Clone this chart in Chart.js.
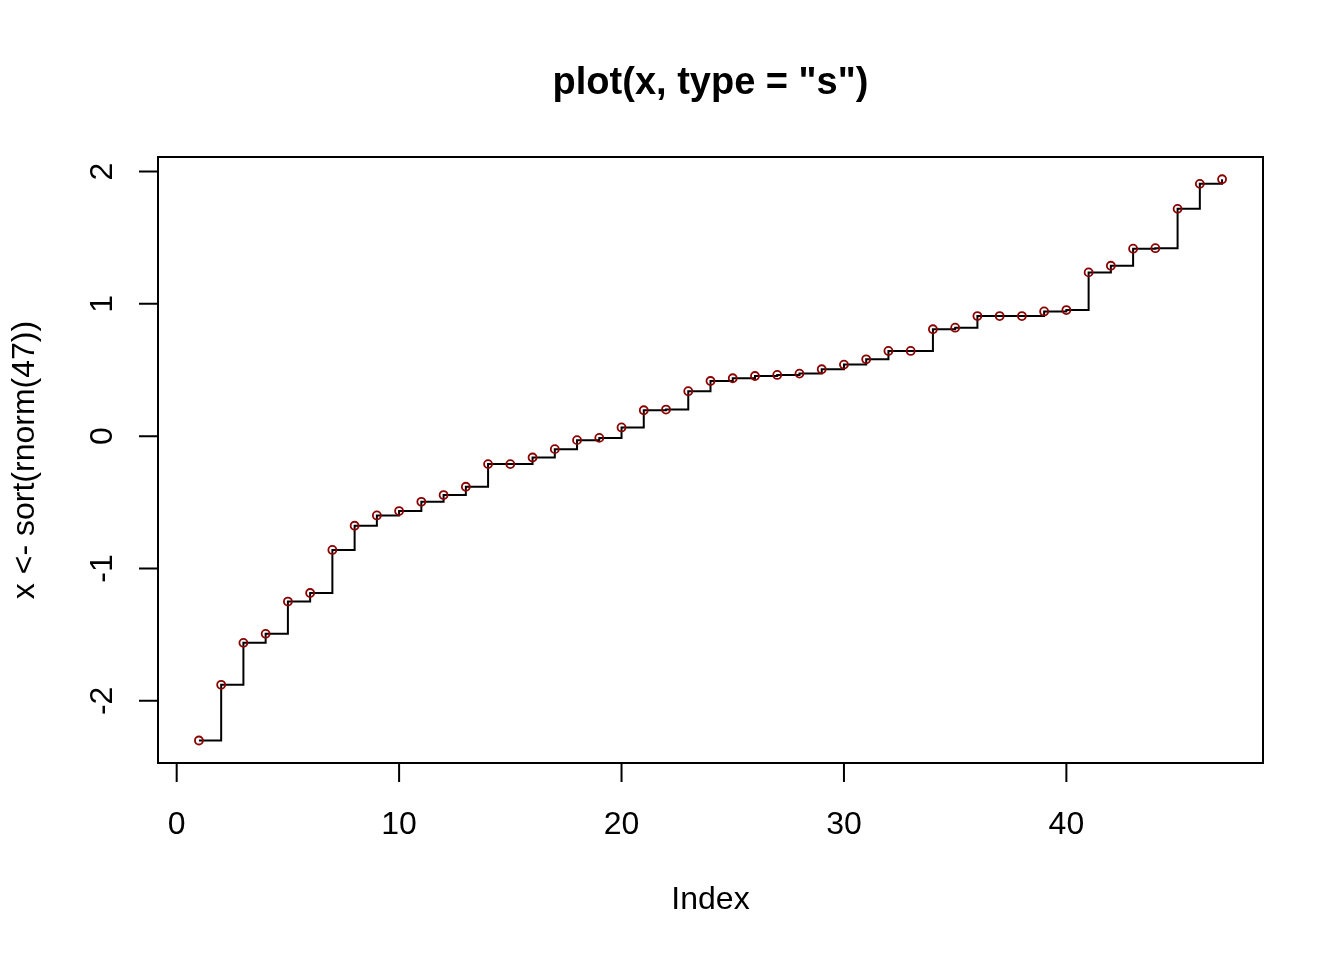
<!DOCTYPE html>
<html><head><meta charset="utf-8">
<script src="https://cdn.jsdelivr.net/npm/chart.js@4.4.0/dist/chart.umd.min.js"></script>
<style>html,body{margin:0;padding:0;background:#fff}#wrap{width:1344px;height:960px}</style>
</head><body><div id="wrap"><canvas id="c" width="1344" height="960"></canvas></div>
<script>
const indexValues = [1,2,3,4,5,6,7,8,9,10,11,12,13,14,15,16,17,18,19,20,21,22,23,24,25,26,27,28,29,30,31,32,33,34,35,36,37,38,39,40,41,42,43,44,45,46,47];
const xValues = [-2.30,-1.879,-1.562,-1.494,-1.250,-1.185,-0.860,-0.677,-0.599,-0.566,-0.496,-0.445,-0.382,-0.211,-0.211,-0.161,-0.098,-0.030,-0.013,0.066,0.196,0.201,0.340,0.417,0.438,0.455,0.463,0.473,0.506,0.541,0.581,0.644,0.644,0.808,0.820,0.908,0.908,0.908,0.943,0.953,1.238,1.288,1.417,1.421,1.718,1.907,1.942];
const xTickValues = [0,10,20,30,40];
const xTickLabels = ['0','10','20','30','40'];
const yTickValues = [-2,-1,0,1,2];
const yTickLabels = ['-2','-1','0','1','2'];
const titleText = 'plot(x, type = "s")';
const xAxisTitle = 'Index';
const yAxisTitle = 'x <- sort(rnorm(47))';

const FONT = '"Liberation Sans", Arial, Helvetica, sans-serif';

const rPlot = {
  id: 'rPlot',
  afterDraw(chart) {
    const ctx = chart.ctx;
    const ca = chart.chartArea;
    const xs = chart.scales.x, ys = chart.scales.y;
    ctx.save();
    ctx.strokeStyle = '#000';
    ctx.lineWidth = 2;
    ctx.strokeRect(ca.left, ca.top, ca.right - ca.left, ca.bottom - ca.top);
    // x axis ticks
    const tl = 19;
    ctx.beginPath();
    const x0 = xs.getPixelForValue(xTickValues[0]);
    const x1 = xs.getPixelForValue(xTickValues[xTickValues.length-1]);
    ctx.moveTo(x0, ca.bottom); ctx.lineTo(x1, ca.bottom);
    xTickValues.forEach(v => { const p = xs.getPixelForValue(v); ctx.moveTo(p, ca.bottom); ctx.lineTo(p, ca.bottom + tl); });
    const y0 = ys.getPixelForValue(yTickValues[0]);
    const y1 = ys.getPixelForValue(yTickValues[yTickValues.length-1]);
    ctx.moveTo(ca.left, y0); ctx.lineTo(ca.left, y1);
    yTickValues.forEach(v => { const p = ys.getPixelForValue(v); ctx.moveTo(ca.left, p); ctx.lineTo(ca.left - tl, p); });
    ctx.stroke();
    ctx.fillStyle = '#000';
    ctx.font = '32px ' + FONT;
    ctx.textAlign = 'center';
    ctx.textBaseline = 'alphabetic';
    xTickValues.forEach((v, i) => ctx.fillText(xTickLabels[i], xs.getPixelForValue(v), 834));
    yTickValues.forEach((v, i) => {
      ctx.save();
      ctx.translate(112, ys.getPixelForValue(v));
      ctx.rotate(-Math.PI/2);
      ctx.fillText(yTickLabels[i], 0, 0);
      ctx.restore();
    });
    ctx.fillText(xAxisTitle, (ca.left + ca.right)/2, 909);
    ctx.save();
    ctx.translate(34, (ca.top + ca.bottom)/2);
    ctx.rotate(-Math.PI/2);
    ctx.fillText(yAxisTitle, 0, 0);
    ctx.restore();
    ctx.font = 'bold 38px ' + FONT;
    ctx.fillText(titleText, (ca.left + ca.right)/2, 94);
    ctx.restore();
  }
};

new Chart(document.getElementById('c'), {
  type: 'line',
  data: {
    datasets: [{
      data: indexValues.map((v, i) => ({x: v, y: xValues[i]})),
      stepped: true,
      borderColor: '#000',
      borderWidth: 2,
      pointRadius: 4,
      pointBorderWidth: 1.8,
      pointBorderColor: '#8B0000',
      pointBackgroundColor: 'rgba(0,0,0,0)',
      fill: false,
      tension: 0
    }]
  },
  options: {
    responsive: false,
    animation: false,
    devicePixelRatio: 1,
    layout: { padding: { top: 157, right: 81, left: 0, bottom: 0 } },
    plugins: { legend: { display: false }, tooltip: { enabled: false }, title: { display: false } },
    scales: {
      x: {
        type: 'linear', min: -0.84, max: 48.84,
        grid: { display: false }, border: { display: false },
        ticks: { display: false },
        afterBuildTicks: s => { s.ticks = xTickValues.map(v => ({value: v})); },
        afterFit: s => { s.height = 197; }
      },
      y: {
        type: 'linear', min: -2.47, max: 2.11,
        grid: { display: false }, border: { display: false },
        ticks: { display: false },
        afterBuildTicks: s => { s.ticks = yTickValues.map(v => ({value: v})); },
        afterFit: s => { s.width = 158; }
      }
    }
  },
  plugins: [rPlot]
});
</script></body></html>
